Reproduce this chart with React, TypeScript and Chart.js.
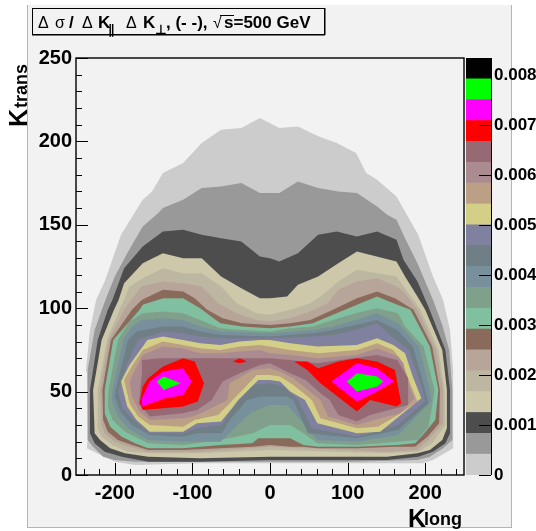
import React, { useEffect, useRef } from "react";
import { Chart, registerables } from "chart.js";

Chart.register(...registerables);

type P = [number, number];

const xTicks = [-200, -100, 0, 100, 200];
const xMinorTicks = [-240, -220, -180, -160, -140, -120, -80, -60, -40, -20, 20, 40, 60, 80, 120, 140, 160, 180, 220, 240];
const yTicks = [0, 50, 100, 150, 200, 250];
const yMinorTicks = [10, 20, 30, 40, 60, 70, 80, 90, 110, 120, 130, 140, 160, 170, 180, 190, 210, 220, 230, 240];
const zTicks = [0, 0.001, 0.002, 0.003, 0.004, 0.005, 0.006, 0.007, 0.008];
const zMax = 0.00834;

const palette = [
  "#cccccc", "#999999", "#4d4d4d", "#cdc8aa", "#bdb7a2", "#b8a59a", "#8a6a5a", "#80bf9f", "#80a08c", "#78909c",
  "#6f7f85", "#80809f", "#d4cf87", "#bca085", "#aa8c90", "#966a74", "#ff0000", "#ff00ff", "#00ff00", "#000000",
];

const level0: P[] = [[-174,6],[-200,8],[-236,16],[-235,21],[-236,62],[-237,64],[-232,87],[-224,105],[-213,116],[-192,144],[-164,165],[-152,170],[-138,181],[-112,187],[-88,199],[-63,207],[-37,208],[-13,214],[12,208],[36,209],[63,203],[86,199],[111,193],[124,181],[138,177],[163,167],[191,144],[210,119],[223,105],[232,87],[236,63],[236,31],[236,16],[210,9],[197,7],[103,7],[0,7],[-90,7]];
const level1: P[] = [[-174,8],[-200,9],[-215,11],[-228,17],[-235,21],[-235,63],[-226,87],[-212,105],[-200,119],[-184,133],[-164,149],[-144,157],[-138,160],[-112,165],[-88,172],[-63,173],[-37,175],[-13,169],[12,169],[36,176],[62,172],[88,170],[112,169],[138,161],[151,156],[163,153],[174,142],[190,127],[210,105],[222,90],[231,75],[235,51],[235,21],[223,16],[206,11],[190,9],[103,8],[0,8],[-90,8]];
const level2: P[] = [[-157,8],[-191,11],[-213,14],[-226,19],[-232,25],[-232,51],[-222,81],[-209,99],[-203,105],[-188,124],[-164,137],[-138,146],[-112,147],[-88,144],[-63,142],[-37,140],[-13,131],[0,130],[12,128],[36,133],[62,144],[86,146],[112,143],[138,146],[163,141],[172,129],[190,116],[205,100],[226,75],[232,51],[232,25],[226,19],[210,14],[191,11],[151,9],[0,9],[-90,8]];
const level3: P[] = [[-157,11],[-187,13],[-206,16],[-219,21],[-226,25],[-228,51],[-217,81],[-201,99],[-195,105],[-188,115],[-164,127],[-138,133],[-112,130],[-88,130],[-63,119],[-37,112],[-13,106],[0,106],[22,107],[36,114],[62,119],[88,127],[112,134],[163,128],[174,119],[190,107],[200,99],[222,75],[228,51],[228,28],[222,21],[206,15],[190,13],[151,11],[0,11],[-90,10]];
const level4: P[] = [[-157,13],[-183,14],[-203,18],[-217,23],[-222,28],[-222,51],[-210,81],[-194,99],[-181,113],[-164,118],[-138,124],[-112,121],[-88,121],[-63,113],[-43,103],[-17,97],[0,96],[26,99],[52,103],[68,108],[88,116],[112,123],[138,121],[163,119],[177,110],[194,99],[217,75],[225,51],[226,30],[209,19],[191,14],[151,13],[0,15],[-90,13]];
const level5: P[] = [[-157,14],[-183,17],[-200,20],[-213,25],[-217,30],[-219,51],[-208,81],[-188,99],[-166,113],[-138,116],[-112,115],[-88,113],[-67,103],[-43,97],[-17,93],[0,92],[26,94],[52,98],[74,103],[88,111],[112,116],[138,118],[163,113],[172,110],[190,99],[214,75],[223,51],[223,31],[204,21],[190,15],[151,14],[0,17],[-90,14]];
const level6: P[] = [[-112,15],[-157,15],[-178,18],[-196,21],[-209,26],[-215,33],[-216,51],[-205,81],[-178,99],[-165,105],[-138,111],[-112,110],[-97,106],[-81,99],[-61,94],[-36,91],[0,90],[26,91],[52,93],[81,99],[112,106],[138,110],[161,106],[185,99],[209,77],[219,51],[218,31],[203,23],[187,17],[164,17],[112,16],[61,16],[43,17],[26,17],[0,18],[-22,17],[-64,16]];
const level7: P[] = [[-112,16],[-157,16],[-174,19],[-191,23],[-206,29],[-213,37],[-213,51],[-202,81],[-168,99],[-164,102],[-138,106],[-112,106],[-90,100],[-64,91],[-36,89],[0,88],[26,89],[55,91],[81,96],[112,102],[138,107],[159,103],[181,99],[206,77],[217,51],[213,33],[197,24],[187,19],[164,18],[112,17],[61,17],[43,18],[26,22],[0,22],[-15,22],[-23,19],[-64,18]];
const level8: P[] = [[-112,18],[-157,19],[-187,26],[-203,33],[-209,41],[-208,51],[-196,81],[-181,92],[-164,97],[-138,98],[-112,97],[-90,93],[-64,88],[-36,87],[0,86],[26,88],[55,89],[81,93],[110,97],[138,100],[165,97],[174,89],[198,77],[212,51],[209,41],[204,29],[190,21],[164,20],[112,18],[61,19],[43,25],[26,30],[0,30],[-22,25],[-64,21]];
const level9: P[] = [[-112,20],[-157,21],[-183,28],[-197,36],[-204,45],[-203,51],[-189,81],[-178,89],[-165,93],[-138,94],[-112,93],[-90,89],[-64,86],[0,85],[55,87],[81,89],[110,93],[138,97],[165,91],[192,77],[206,51],[208,44],[165,24],[112,20],[61,21],[43,31],[22,42],[0,42],[-26,37],[-39,31],[-64,20]];
const level10: P[] = [[-112,23],[-155,24],[-178,30],[-193,38],[-200,47],[-199,51],[-183,81],[-172,86],[-138,89],[-112,89],[-90,86],[-64,84],[0,83],[55,85],[81,87],[110,90],[138,93],[164,87],[184,77],[200,51],[204,43],[165,27],[112,22],[49,25],[30,45],[22,47],[0,47],[-13,47],[-30,45],[-35,42],[-52,33],[-62,25],[-93,25]];
const level11: P[] = [[-112,25],[-155,25],[-174,32],[-190,40],[-196,50],[-185,66],[-170,81],[-138,86],[-112,85],[-90,83],[-64,82],[0,82],[55,83],[81,84],[110,87],[138,91],[157,83],[179,75],[197,51],[200,44],[165,30],[112,23],[54,28],[36,45],[17,53],[0,55],[-22,54],[-39,45],[-48,40],[-62,30],[-94,28]];
const level12: P[] = [[-112,26],[-155,26],[-172,33],[-184,41],[-192,56],[-181,66],[-158,81],[-138,83],[-112,81],[-90,79],[-64,78],[-39,80],[-13,81],[0,81],[26,79],[61,77],[112,78],[138,82],[159,78],[174,73],[184,59],[195,46],[142,26],[112,25],[61,31],[45,45],[26,50],[13,56],[0,57],[-15,57],[-41,45],[-49,40],[-63,32],[-94,31]];
const level13: P[] = [[-112,29],[-155,30],[-170,35],[-181,43],[-188,57],[-177,66],[-164,75],[-138,80],[-112,78],[-90,76],[-64,75],[-39,77],[-13,78],[0,77],[26,75],[62,73],[112,75],[138,79],[159,75],[170,68],[178,58],[190,44],[165,36],[139,29],[112,28],[65,34],[54,45],[30,54],[13,59],[0,60],[-17,60],[-48,45],[-54,42],[-67,36],[-97,33]];
const level14: P[] = [[-112,34],[-155,33],[-168,38],[-178,47],[-181,56],[-174,63],[-164,72],[-138,77],[-112,76],[-90,73],[-64,73],[-39,74],[-13,75],[0,73],[26,72],[62,70],[112,72],[138,76],[165,71],[172,67],[177,56],[186,46],[168,37],[142,34],[112,30],[75,35],[65,45],[30,58],[13,62],[0,64],[-22,63],[-52,55],[-55,45],[-80,39],[-99,35]];
const level15: P[] = [[-112,37],[-155,35],[-169,43],[-165,61],[-165,69],[-142,70],[-90,70],[-39,70],[0,70],[26,69],[62,67],[90,69],[138,72],[164,69],[178,58],[178,42],[129,36],[112,32],[88,36],[77,45],[65,49],[46,57],[26,61],[0,67],[-13,66],[-39,61],[-61,56],[-75,45],[-94,39]];
const level16Left: P[] = [[-168,43],[-164,39],[-112,41],[-93,44],[-85,55],[-97,68],[-112,70],[-138,65],[-157,58],[-164,53]];
const level16Mid: P[] = [[-48,68],[-39,70],[-30,68],[-39,67]];
const level16Right: P[] = [[31,68],[48,68],[62,64],[88,68],[112,70],[138,68],[161,63],[169,43],[163,41],[129,45],[112,38],[65,55],[48,63]];
const level17Left: P[] = [[-165,41],[-135,46],[-112,48],[-101,56],[-112,64],[-138,62],[-155,56],[-165,46]];
const level17Right: P[] = [[79,56],[112,67],[138,64],[160,56],[138,50],[112,44]];
const level18Left: P[] = [[-146,56],[-137,59],[-115,55],[-137,51]];
const level18Right: P[] = [[99,56],[112,61],[138,59],[146,56],[138,53],[112,50]];

const contours: [number, P[]][] = [
  [0, level0], [1, level1], [2, level2], [3, level3], [4, level4], [5, level5], [6, level6], [7, level7],
  [8, level8], [9, level9], [10, level10], [11, level11], [12, level12], [13, level13], [14, level14], [15, level15],
  [16, level16Left], [16, level16Mid], [16, level16Right], [17, level17Left], [17, level17Right], [18, level18Left], [18, level18Right],
];

const SANS = '"Liberation Sans", Arial, sans-serif';

function inwardTicks(chart: any) {
  const { ctx, chartArea: a, scales } = chart;
  const { x, y } = scales;
  ctx.save();
  ctx.strokeStyle = "#000";
  ctx.lineWidth = 1;
  const seg = (x0: number, y0: number, x1: number, y1: number) => {
    ctx.beginPath();
    ctx.moveTo(x0, y0);
    ctx.lineTo(x1, y1);
    ctx.stroke();
  };
  xTicks.forEach((v) => { const p = Math.round(x.getPixelForValue(v)) + 0.5; seg(p, a.bottom, p, a.bottom - 12); });
  xMinorTicks.forEach((v) => { const p = Math.round(x.getPixelForValue(v)) + 0.5; seg(p, a.bottom, p, a.bottom - 6); });
  yTicks.forEach((v) => { const p = Math.round(y.getPixelForValue(v)) + 0.5; seg(a.left, p, a.left + 12, p); });
  yMinorTicks.forEach((v) => { const p = Math.round(y.getPixelForValue(v)) + 0.5; seg(a.left, p, a.left + 6, p); });
  ctx.lineWidth = 1.4;
  ctx.strokeRect(a.left, a.top, a.right - a.left, a.bottom - a.top);
  ctx.restore();
}

function run(ctx: any, text: string, x: number, y: number, font: string) {
  ctx.font = font;
  ctx.fillText(text, x, y);
}

const decorations = {
  id: "decorations",
  beforeDraw(chart: any) {
    const { ctx } = chart;
    ctx.save();
    ctx.fillStyle = "#ffffff";
    ctx.fillRect(0, 0, 536, 531);
    ctx.fillStyle = "#f2f2f2";
    ctx.fillRect(27, 5, 485, 523);
    ctx.fillStyle = "#b4b4b4";
    ctx.fillRect(27, 5, 1, 523);
    ctx.fillRect(511, 5, 1, 523);
    ctx.fillRect(27, 527, 485, 1);
    ctx.restore();
  },
  afterDraw(chart: any) {
    inwardTicks(chart);
    const { ctx } = chart;
    ctx.save();
    ctx.fillStyle = "#f2f2f2";
    ctx.fillRect(32, 8, 292, 26);
    ctx.strokeStyle = "#000";
    ctx.lineWidth = 1;
    ctx.strokeRect(32.5, 8.5, 292, 26);
    ctx.fillStyle = "#000";
    ctx.fillRect(32, 34, 293, 1.5);
    ctx.fillRect(324, 8, 1.5, 27);
    ctx.textBaseline = "alphabetic";
    ctx.textAlign = "left";
    const bold = `bold 17px ${SANS}`;
    const thin = `16px ${SANS}`;
    run(ctx, "Δ", 38, 28, thin);
    run(ctx, "σ", 55, 28, thin);
    run(ctx, "/", 69, 28, bold);
    run(ctx, "Δ", 82, 28, thin);
    run(ctx, "K", 98, 28, bold);
    run(ctx, "∥", 108, 34, `bold 13px "DejaVu Sans", sans-serif`);
    run(ctx, "Δ", 126, 28, thin);
    run(ctx, "K", 143, 28, bold);
    run(ctx, "⊥", 155, 34, `bold 13px "DejaVu Sans", sans-serif`);
    run(ctx, ", (- -),", 166, 28, bold);
    run(ctx, "√", 213, 28, thin);
    ctx.fillRect(220, 15, 14, 1);
    run(ctx, "s=500 GeV", 224, 28, bold);

    run(ctx, "K", 408, 527, `bold 25px ${SANS}`);
    run(ctx, "long", 424, 525, `bold 18px ${SANS}`);

    ctx.translate(27, 127);
    ctx.rotate(-Math.PI / 2);
    run(ctx, "K", 0, 0, `bold 25px ${SANS}`);
    run(ctx, "trans", 19, 0, `bold 18px ${SANS}`);
    ctx.restore();
  },
};

const paletteFrame = {
  id: "paletteFrame",
  afterDraw(chart: any) {
    const { ctx, chartArea: a, scales } = chart;
    ctx.save();
    ctx.strokeStyle = "#000";
    ctx.lineWidth = 1;
    ctx.beginPath();
    ctx.moveTo(a.right + 0.5, a.top);
    ctx.lineTo(a.right + 0.5, a.bottom);
    ctx.stroke();
    zTicks.forEach((v) => {
      const p = Math.round(scales.y.getPixelForValue(v)) + 0.5;
      ctx.beginPath();
      ctx.moveTo(a.right, p);
      ctx.lineTo(a.right - 12, p);
      ctx.stroke();
    });
    ctx.restore();
  },
};

export default function App() {
  const mainRef = useRef<HTMLCanvasElement>(null);
  const barRef = useRef<HTMLCanvasElement>(null);

  useEffect(() => {
    const main = new Chart(mainRef.current as HTMLCanvasElement, {
      type: "scatter",
      data: {
        datasets: contours.map(([lvl, pts], i) => ({
          data: pts.map(([x, y]) => ({ x, y })),
          showLine: true,
          fill: "shape",
          backgroundColor: palette[lvl],
          borderWidth: 0,
          borderColor: palette[lvl],
          pointRadius: 0,
          tension: 0,
          order: contours.length - i,
        })),
      },
      plugins: [decorations],
      options: {
        responsive: false,
        animation: false,
        layout: { padding: { left: 28, right: 72, top: 58, bottom: 6 } },
        plugins: { legend: { display: false }, tooltip: { enabled: false }, title: { display: false } },
        scales: {
          x: {
            type: "linear",
            min: -250,
            max: 250,
            grid: { display: false, drawTicks: false },
            border: { display: false },
            afterBuildTicks: (axis: any) => { axis.ticks = xTicks.map((value) => ({ value })); },
            afterFit: (axis: any) => { axis.height = 50; },
            ticks: { color: "#000", padding: 6, maxRotation: 0, autoSkip: false, font: { family: SANS, size: 20, weight: "bold" } },
          },
          y: {
            type: "linear",
            min: 0,
            max: 250,
            grid: { display: false, drawTicks: false },
            border: { display: false },
            afterBuildTicks: (axis: any) => { axis.ticks = yTicks.map((value) => ({ value })); },
            afterFit: (axis: any) => { axis.width = 48; },
            ticks: { color: "#000", padding: 4, autoSkip: false, font: { family: SANS, size: 20, weight: "bold" } },
          },
        },
      },
    } as any);

    const bar = new Chart(barRef.current as HTMLCanvasElement, {
      type: "bar",
      data: {
        labels: [""],
        datasets: palette.map((c) => ({
          data: [zMax / palette.length],
          backgroundColor: c,
          borderWidth: 0,
          barPercentage: 1,
          categoryPercentage: 1,
        })),
      },
      plugins: [paletteFrame],
      options: {
        responsive: false,
        animation: false,
        layout: { padding: { left: 0, right: 0, top: 58, bottom: 56 } },
        plugins: { legend: { display: false }, tooltip: { enabled: false } },
        scales: {
          x: { stacked: true, display: false },
          y: {
            stacked: true,
            position: "right",
            min: 0,
            max: zMax,
            grid: { display: false, drawTicks: false },
            border: { display: false },
            afterBuildTicks: (axis: any) => { axis.ticks = zTicks.map((value) => ({ value })); },
            afterFit: (axis: any) => { axis.width = 45; },
            ticks: {
              color: "#000",
              padding: 3,
              autoSkip: false,
              callback: (v: any) => String(v),
              font: { family: SANS, size: 17, weight: "bold" },
            },
          },
        },
      },
    } as any);

    return () => {
      main.destroy();
      bar.destroy();
    };
  }, []);

  return (
    <div style={{ position: "fixed", left: 0, top: 0, width: 536, height: 531, overflow: "hidden", background: "#fff" }}>
      <canvas ref={mainRef} width={536} height={531} style={{ position: "absolute", left: 0, top: 0, width: 536, height: 531 }} />
      <canvas ref={barRef} width={70} height={531} style={{ position: "absolute", left: 466, top: 0, width: 70, height: 531 }} />
    </div>
  );
}
